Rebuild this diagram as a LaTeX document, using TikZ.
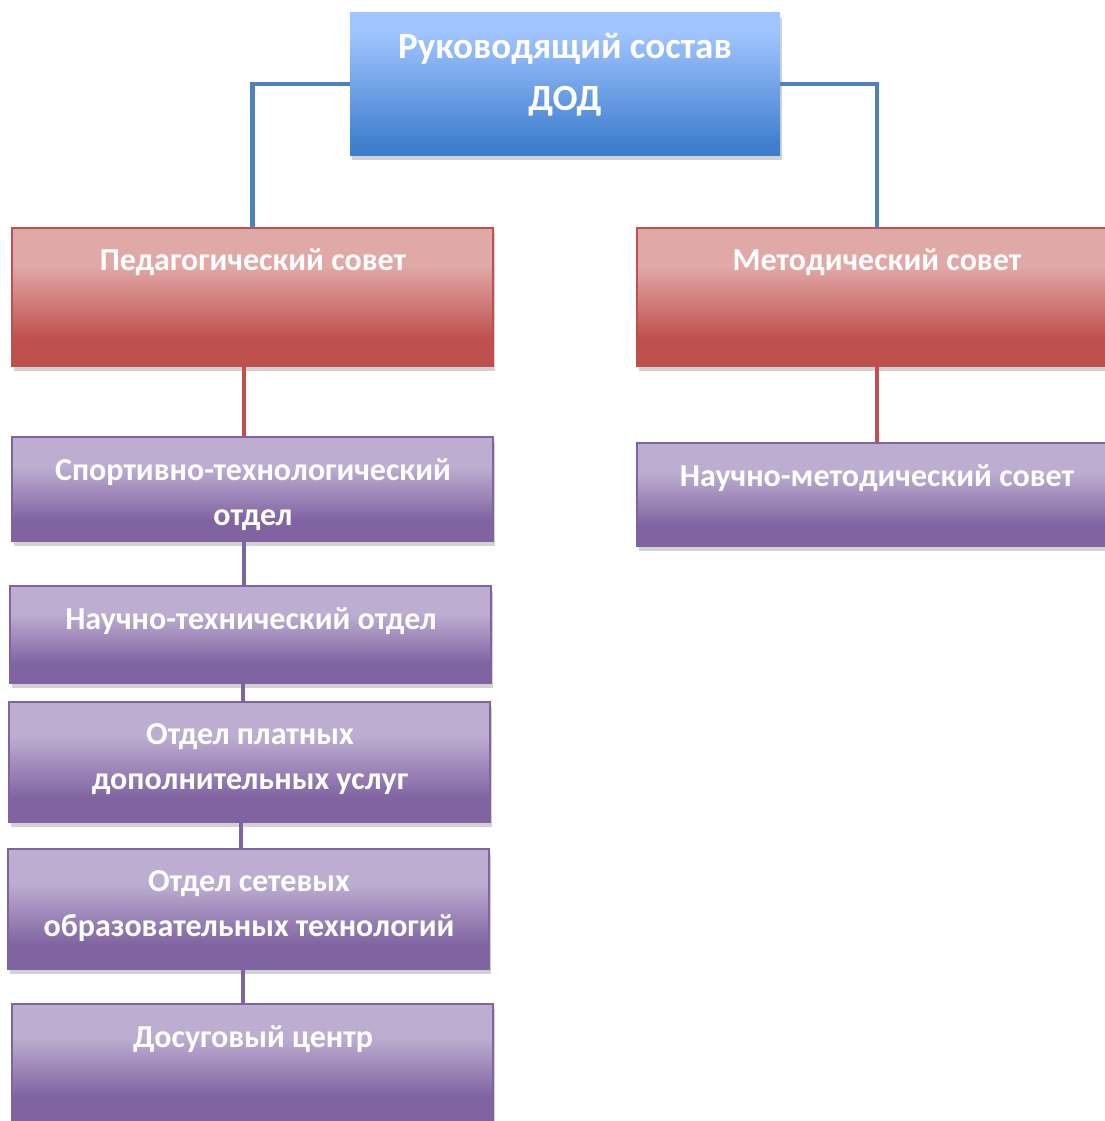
\documentclass[tikz,border=0pt]{standalone}
\usepackage{fontspec}
\setmainfont{Carlito}
\usetikzlibrary{calc,shadows}
\definecolor{bluelight}{RGB}{160,196,255}
\definecolor{bluedark}{RGB}{62,126,205}
\definecolor{redlight}{RGB}{224,168,166}
\definecolor{reddark}{RGB}{192,80,77}
\definecolor{purlight}{RGB}{189,174,209}
\definecolor{purdark}{RGB}{128,100,162}
\definecolor{shadowgray}{RGB}{210,210,210}
\definecolor{bluelink}{RGB}{79,129,189}
\pgfdeclareverticalshading{blueshade}{100bp}{color(0bp)=(bluedark); color(28bp)=(bluedark); color(68bp)=(bluelight); color(100bp)=(bluelight)}
\pgfdeclareverticalshading{redshade}{100bp}{color(0bp)=(reddark); color(35bp)=(reddark); color(61bp)=(redlight); color(100bp)=(redlight)}
\pgfdeclareverticalshading{purshade}{100bp}{color(0bp)=(purdark); color(35bp)=(purdark); color(61bp)=(purlight); color(100bp)=(purlight)}
\tikzset{
  box/.style={rectangle, inner sep=0pt, outer sep=0pt, anchor=north west, line width=1.2pt,
    drop shadow={shadow xshift=2pt, shadow yshift=-5pt, fill=shadowgray, opacity=1}},
  bluebox/.style={box, shading=blueshade},
  redbox/.style={box, shading=redshade, draw=reddark},
  purbox/.style={box, shading=purshade, draw=purdark},
  lbl/.style={text=white, anchor=mid, inner sep=0pt, font=\bfseries\fontsize{32}{36}\selectfont},
  title/.style={lbl, font=\bfseries\fontsize{37}{40}\selectfont},
  bluelinkst/.style={draw=bluelink, line width=4.5pt},
  redlinkst/.style={draw=reddark, line width=4.5pt},
  purlinkst/.style={draw=purdark, line width=4.5pt},
}
\begin{document}
\begin{tikzpicture}[x=1pt,y=-1pt]
\useasboundingbox (0,0) rectangle (1104,1121);
\coordinate (spineA) at (244,0);
\coordinate (spineB) at (243,0);
\coordinate (spineC) at (241,0);
% boxes
\node[bluebox, minimum width=430pt, minimum height=142pt] (top) at (350,13) {};
\node[redbox, minimum width=481pt, minimum height=138pt] (ped) at (12,228) {};
\node[redbox, minimum width=480pt, minimum height=138pt] (met) at (637,228) {};
\node[purbox, minimum width=481pt, minimum height=104pt] (sport) at (12,437) {};
\node[purbox, minimum width=480pt, minimum height=103pt] (nmet) at (637,443) {};
\node[purbox, minimum width=481pt, minimum height=97pt] (ntech) at (10,586) {};
\node[purbox, minimum width=481pt, minimum height=120pt] (paid) at (9,702) {};
\node[purbox, minimum width=481pt, minimum height=120pt] (net) at (8,849) {};
\node[purbox, minimum width=481pt, minimum height=116pt] (leis) at (12,1004) {};
% connectors
\draw[bluelinkst] (top.west) -| (ped.north);
\draw[bluelinkst] (top.east) -| (met.north);
\draw[redlinkst] (ped.south -| spineA) -- (sport.north -| spineA);
\draw[redlinkst] (met.south) -- (nmet.north);
\draw[purlinkst] (sport.south -| spineA) -- (ntech.north -| spineA);
\draw[purlinkst] (ntech.south -| spineB) -- (paid.north -| spineB);
\draw[purlinkst] (paid.south -| spineC) -- (net.north -| spineC);
\draw[purlinkst] (net.south -| spineB) -- (leis.north -| spineB);
% labels
\node[title] (t1) at (565,56) {Руководящий состав};
\node[title] (t2) at (565,108) {ДОД};
\node[lbl] (l1) at (253,268) {Педагогический совет};
\node[lbl] (l2) at (877,268) {Методический совет};
\node[lbl] (l3) at (253,478) {Спортивно-технологический};
\node[lbl] (l4) at (253,523) {отдел};
\node[lbl] (l5) at (877,484) {Научно-методический совет};
\node[lbl] (l6) at (251,627) {Научно-технический отдел};
\node[lbl] (l7) at (250,742) {Отдел платных};
\node[lbl] (l8) at (250,787) {дополнительных услуг};
\node[lbl] (l9) at (249,889) {Отдел сетевых};
\node[lbl] (l10) at (249,934) {образовательных технологий};
\node[lbl] (l11) at (253,1045) {Досуговый центр};
\end{tikzpicture}
\end{document}
